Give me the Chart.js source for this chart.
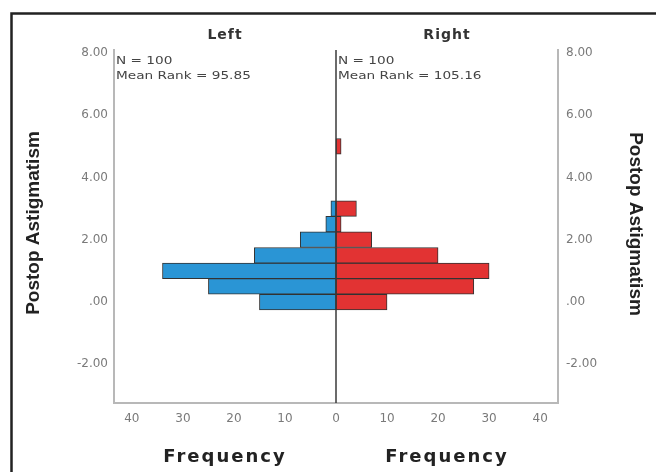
<!DOCTYPE html>
<html>
<head>
<meta charset="utf-8">
<title>Postop Astigmatism</title>
<script src="https://cdn.jsdelivr.net/npm/chart.js@4.4.1/dist/chart.umd.min.js"></script>
<style>
  html, body { margin: 0; padding: 0; background: #fff; }
  #wrap { width: 656px; height: 472px; }
</style>
</head>
<body>
<div id="wrap"><canvas id="chart" width="656" height="472"></canvas></div>
<script>
// histogram bins (bin centres) and counts per group
const bins = [0, 0.5, 1, 1.5, 2, 2.5, 3, 3.5, 4, 4.5, 5];
const leftCounts = [15, 25, 34, 16, 7, 2, 1, 0, 0, 0, 0];
const rightCounts = [10, 27, 30, 20, 7, 1, 4, 0, 0, 0, 1];
const yTicks = [-2, 0, 2, 4, 6, 8];
const xTicks = [-40, -30, -20, -10, 0, 10, 20, 30, 40];
const groups = ['Left', 'Right'];
const groupStats = [['N = 100', 'Mean Rank = 95.85'], ['N = 100', 'Mean Rank = 105.16']];
const axisTitle = 'Postop Astigmatism';
const freqTitle = 'Frequency';

const blue = '#2a95d5';
const red = '#e23333';

// left side goes negative so it grows away from the centre line
const leftPoints = bins.map((b, i) => ({x: -leftCounts[i], y: b})).filter(p => p.x !== 0);
const rightPoints = bins.map((b, i) => ({x: rightCounts[i], y: b})).filter(p => p.x !== 0);

const fmtY = v => v === 0 ? '.00' : Number(v).toFixed(2);
const tickFont = {family: 'DejaVu Sans', size: 12};

function yScale(pos, width, pad) {
    return {
        type: 'linear',
        position: pos,
        offset: false,
        min: -3.24,
        max: 8.09,
        afterBuildTicks: s => { s.ticks = yTicks.map(v => ({value: v})); },
        afterFit: s => { s.width = width; },
        ticks: {callback: fmtY, font: tickFont, color: '#7a7a7a', padding: pad},
        grid: {display: false, drawTicks: false},
        border: {display: true, color: '#b8b8b8', width: 2}
    };
}

const drawExtras = {
    id: 'drawExtras',
    afterDatasetsDraw(chart) {
        const {ctx, chartArea: a, scales} = chart;
        const x0 = scales.x.getPixelForValue(0);
        ctx.save();
        ctx.strokeStyle = '#3a3a3a';
        ctx.lineWidth = 1.5;
        ctx.beginPath();
        ctx.moveTo(x0, a.top);
        ctx.lineTo(x0, a.bottom);
        ctx.stroke();
        ctx.restore();
    },
    afterDraw(chart) {
        const {ctx, chartArea: a, scales} = chart;
        const x0 = scales.x.getPixelForValue(0);
        const centres = [(a.left + x0) / 2, (x0 + a.right) / 2];
        const starts = [a.left + 2, x0 + 2];
        ctx.save();

        // outer frame (only top and left edges visible)
        ctx.strokeStyle = '#222';
        ctx.lineWidth = 2.5;
        ctx.beginPath();
        ctx.moveTo(11.5, 472);
        ctx.lineTo(11.5, 13.5);
        ctx.lineTo(656, 13.5);
        ctx.stroke();

        ctx.fillStyle = '#333';
        ctx.textAlign = 'center';
        ctx.textBaseline = 'alphabetic';
        ctx.font = 'bold 14px "DejaVu Sans"';
        ctx.letterSpacing = '1px';
        groups.forEach((g, i) => ctx.fillText(g, centres[i], 39));

        ctx.font = 'bold 18px "DejaVu Sans"';
        ctx.letterSpacing = '2px';
        ctx.fillStyle = '#222';
        centres.forEach(c => ctx.fillText(freqTitle, c, 462));

        ctx.letterSpacing = '0px';
        ctx.fillStyle = '#444';
        ctx.textAlign = 'left';
        ctx.font = '10.5px "DejaVu Sans"';
        groupStats.forEach((lines, i) => {
            lines.forEach((t, j) => {
                ctx.save();
                ctx.translate(starts[i], 63.5 + j * 15.5);
                ctx.scale(1.3, 1);
                ctx.fillText(t, 0, 0);
                ctx.restore();
            });
        });

        ctx.fillStyle = '#222';
        ctx.textAlign = 'center';
        ctx.textBaseline = 'middle';
        ctx.font = 'bold 19px "Liberation Sans"';
        ctx.save();
        ctx.translate(34, 223);
        ctx.rotate(-Math.PI / 2);
        ctx.fillText(axisTitle, 0, 0);
        ctx.restore();
        ctx.save();
        ctx.translate(635, 224);
        ctx.rotate(Math.PI / 2);
        ctx.fillText(axisTitle, 0, 0);
        ctx.restore();

        ctx.restore();
    },
    beforeDraw(chart) {
        const ctx = chart.ctx;
        ctx.save();
        ctx.fillStyle = '#fff';
        ctx.fillRect(0, 0, chart.width, chart.height);
        ctx.restore();
    }
};

new Chart(document.getElementById('chart'), {
    type: 'bar',
    data: {
        datasets: [
            {label: groups[0], data: leftPoints, backgroundColor: blue},
            {label: groups[1], data: rightPoints, backgroundColor: red}
        ]
    },
    options: {
        indexAxis: 'y',
        responsive: false,
        animation: false,
        devicePixelRatio: 1,
        layout: {padding: {top: 50, left: 0, right: 0, bottom: 0}},
        datasets: {
            bar: {
                grouped: false,
                barPercentage: 1,
                categoryPercentage: 1,
                borderColor: '#333',
                borderWidth: 1,
                borderSkipped: false
            }
        },
        plugins: {
            legend: {display: false},
            tooltip: {enabled: false}
        },
        scales: {
            x: {
                type: 'linear',
                min: -43.5,
                max: 43.5,
                afterBuildTicks: s => { s.ticks = xTicks.map(v => ({value: v})); },
                afterFit: s => { s.height = 69; },
                ticks: {callback: v => Math.abs(v), font: tickFont, color: '#7a7a7a', padding: 9, maxRotation: 0, autoSkip: false},
                grid: {display: false, drawTicks: false},
                border: {display: true, color: '#b8b8b8', width: 2}
            },
            y: yScale('left', 114, 6),
            y2: yScale('right', 98, 8)
        }
    },
    plugins: [drawExtras]
});
</script>
</body>
</html>
